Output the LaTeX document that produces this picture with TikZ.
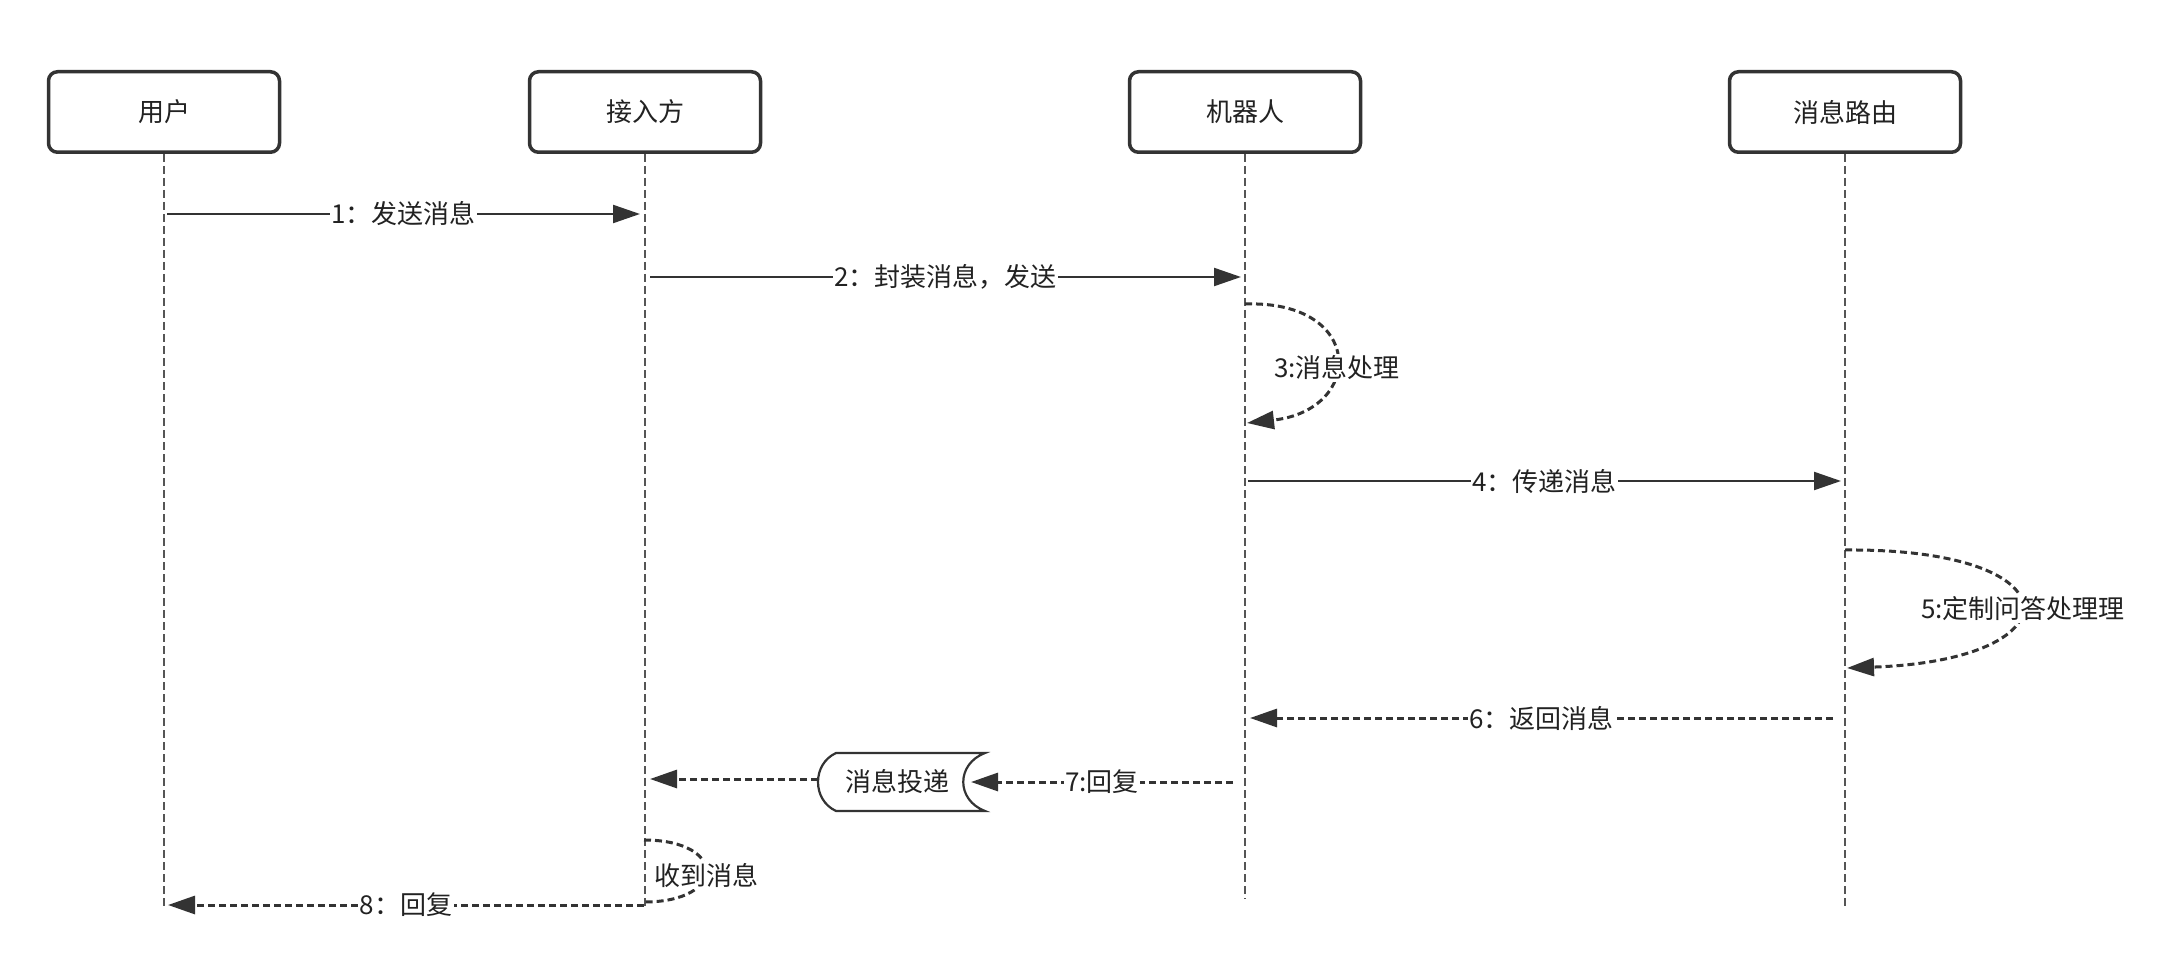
\documentclass[tikz,border=0pt]{standalone}
\usepackage{fontspec}
\setmainfont{Noto Sans CJK SC}
\usetikzlibrary{arrows.meta}
\definecolor{ink}{HTML}{333333}
\definecolor{txt}{HTML}{222222}
\definecolor{life}{HTML}{555555}
\begin{document}
\begin{tikzpicture}[x=1pt,y=-1pt,
  actor/.style={draw=ink, line width=3.5pt, rounded corners=9pt, minimum width=231pt, minimum height=80.5pt, fill=white, text=txt, inner sep=0pt, font=\fontsize{26}{30}\selectfont},
  lifeline/.style={draw=life, line width=1.4pt, dash pattern=on 8pt off 4pt},
  msg/.style={draw=ink, line width=2.2pt, -{Triangle[length=27pt,width=18pt]}},
  reply/.style={draw=ink, line width=3pt, dash pattern=on 7pt off 4pt, -{Triangle[length=27pt,width=18pt]}},
  loopline/.style={draw=ink, line width=3pt, dash pattern=on 7pt off 4pt},
  lbl/.style={fill=white, text=txt, inner sep=1.5pt, font=\fontsize{26}{30}\selectfont},
  storebox/.style={draw=ink, line width=2.2pt, fill=white},
]
\useasboundingbox (0,0) rectangle (2174,968);

% actors
\node[actor] (u) at (164,112) {用户};
\node[actor] (a) at (645,112) {接入方};
\node[actor] (r) at (1245,112) {机器人};
\node[actor] (m) at (1845,112) {消息路由};

% lifeline ends
\coordinate (uE) at (164,906);
\coordinate (aE) at (645,906);
\coordinate (rE) at (1245,899);
\coordinate (mE) at (1845,907);
\draw[lifeline] (u.south) -- (uE);
\draw[lifeline] (a.south) -- (aE);
\draw[lifeline] (r.south) -- (rE);
\draw[lifeline] (m.south) -- (mE);

% message end points
\coordinate (m1s) at (167,214);  \coordinate (m1e) at (640,214);
\coordinate (m2s) at (650,277);  \coordinate (m2e) at (1241,277);
\coordinate (m3s) at (1245,304); \coordinate (m3e) at (1247,423);
\coordinate (m4s) at (1248,481); \coordinate (m4e) at (1841,481);
\coordinate (m5s) at (1845,550); \coordinate (m5e) at (1847,668);
\coordinate (m6s) at (1833,718); \coordinate (m6e) at (1250,718);
\coordinate (m7s) at (1233,782);
\coordinate (m8s) at (644,905);  \coordinate (m8e) at (168,905);
\coordinate (rcs) at (644,840);  \coordinate (rce) at (644,902);
\coordinate (m7t) at (650,779);

% 1, 2
\draw[msg] (m1s) -- node[lbl] {1：发送消息} (m1e);
\draw[msg] (m2s) -- node[lbl] {2：封装消息，发送} (m2e);

% 3 self loop
\draw[reply] (m3s) .. controls (1365,300) and (1365,410) .. (m3e);
\node[lbl] (l3) at (1337,368) {3:消息处理};

% 4
\draw[msg] (m4s) -- node[lbl] {4：传递消息} (m4e);

% 5 self loop
\draw[reply] (m5s) .. controls (2078,548) and (2078,660) .. (m5e);
\node[lbl] (l5) at (2023,609) {5:定制问答处理理};

% 6
\draw[reply] (m6s) -- node[lbl] {6：返回消息} (m6e);

% store shape
\draw[storebox] (836,753) -- (985,753) .. controls (956,764) and (956,800) .. (985,811) -- (836,811) .. controls (812,800) and (812,764) .. (836,753) -- cycle;
\node[text=txt, inner sep=0pt, font=\fontsize{26}{30}\selectfont] (dl) at (897,782) {消息投递};
\coordinate (dlR) at (971,782);
\coordinate (dlL) at (818,779);

% 7
\draw[reply] (m7s) -- node[lbl] {7:回复} (dlR);
\draw[reply] (dlL) -- (m7t);

% received loop
\draw[loopline] (rcs) .. controls (727,840) and (727,902) .. (rce);
\node[lbl] (lr) at (706,875) {收到消息};

% 8
\draw[reply] (m8s) -- node[lbl] {8：回复} (m8e);
\end{tikzpicture}
\end{document}
